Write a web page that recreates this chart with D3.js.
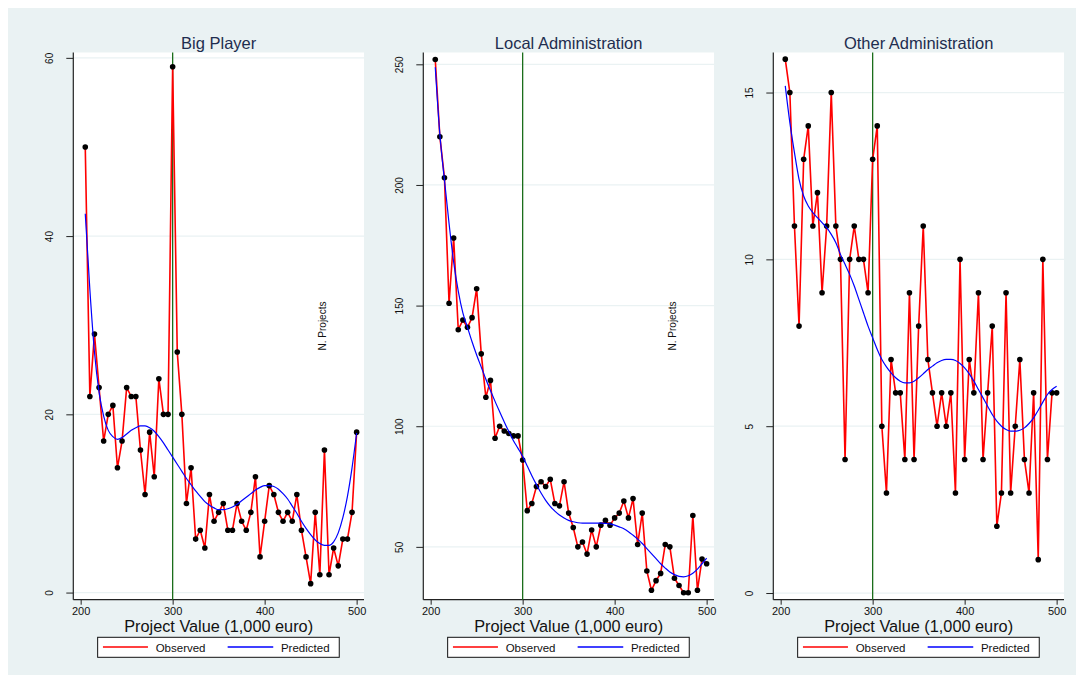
<html>
	<head>
		<meta charset="utf-8">
		<title>N. Projects by Project Value</title>
		<script src="https://d3js.org/d3.v7.min.js"></script>
		<style type="text/css">
			body {
				margin: 0;
				background: white;
			}
			text {
				font-family: "Liberation Sans", Arial, sans-serif;
			}
		</style>
	</head>
	<body>
		<div id="chart"></div>
	</body>
</html>
<script type="text/javascript">

	// project value bins (1,000 euro)
	const projectValue = [205, 210, 215, 220, 225, 230, 235, 240, 245, 250,
		255, 260, 265, 270, 275, 280, 285, 290, 295, 300,
		305, 310, 315, 320, 325, 330, 335, 340, 345, 350,
		355, 360, 365, 370, 375, 380, 385, 390, 395, 400,
		405, 410, 415, 420, 425, 430, 435, 440, 445, 450,
		455, 460, 465, 470, 475, 480, 485, 490, 495, 500];

	const bigObserved = [50, 22, 29, 23, 17, 20, 21, 14, 17, 23,
		22, 22, 16, 11, 18, 13, 24, 20, 20, 59,
		27, 20, 10, 14, 6, 7, 5, 11, 8, 9,
		10, 7, 7, 10, 8, 7, 9, 13, 4, 8,
		12, 11, 9, 8, 9, 8, 11, 7, 4, 1,
		9, 2, 16, 2, 5, 3, 6, 6, 9, 18];
	const bigPredicted = [42.5, 34, 27, 22.5, 19.8, 18.2, 17.5, 17.2, 17.4, 17.8,
		18.2, 18.5, 18.7, 18.7, 18.5, 18.1, 17.5, 16.8, 16, 15.2,
		14.4, 13.6, 12.8, 12.1, 11.4, 10.8, 10.2, 9.8, 9.5, 9.3,
		9.3, 9.4, 9.6, 9.9, 10.3, 10.7, 11.1, 11.5, 11.8, 12,
		12, 11.9, 11.6, 11.1, 10.5, 9.7, 8.9, 8, 7.2, 6.5,
		5.9, 5.5, 5.3, 5.3, 5.7, 6.7, 8.4, 10.8, 14, 17.9];

	const localObserved = [252, 220, 203, 151, 178, 140, 144, 141, 145, 157,
		130, 112, 119, 95, 100, 98, 97, 96, 96, 86,
		65, 68, 75, 77, 75, 78, 68, 67, 77, 64,
		58, 50, 52, 47, 57, 50, 59, 61, 59, 62,
		64, 69, 62, 70, 51, 64, 40, 32, 36, 39,
		51, 50, 37, 34, 31, 31, 63, 32, 45, 43];
	const localPredicted = [248.8, 221, 202, 184, 168, 156, 147, 141, 135, 129.5,
		124.5, 119.5, 114.8, 110.3, 106, 101.8, 97.8, 94, 90.8, 87.5,
		83.5, 79.5, 75.8, 72.3, 69.3, 66.8, 64.8, 63.2, 62, 61,
		60.4, 60, 59.8, 59.8, 59.8, 59.8, 59.8, 59.7, 59.5, 59,
		58.3, 57.5, 56.3, 54.8, 53.2, 51.4, 49.3, 47.2, 45.1, 43,
		41.2, 39.6, 38.5, 37.8, 37.6, 38, 39.1, 40.8, 43, 45.3];

	const otherObserved = [16, 15, 11, 8, 13, 14, 11, 12, 9, 11,
		15, 11, 10, 4, 10, 11, 10, 10, 9, 13,
		14, 5, 3, 7, 6, 6, 4, 9, 4, 8,
		11, 7, 6, 5, 6, 5, 6, 3, 10, 4,
		7, 6, 9, 4, 6, 8, 2, 3, 9, 3,
		5, 7, 4, 3, 6, 1, 10, 4, 6, 6];
	const otherPredicted = [15.2, 14.1, 13.2, 12.4, 11.9, 11.6, 11.4, 11.25, 11.1, 10.95,
		10.75, 10.5, 10.15, 9.85, 9.55, 9.2, 8.8, 8.4, 8, 7.65,
		7.3, 7, 6.78, 6.6, 6.45, 6.35, 6.3, 6.3, 6.35, 6.45,
		6.57, 6.7, 6.8, 6.9, 6.97, 7, 7, 6.97, 6.88, 6.75,
		6.57, 6.35, 6.1, 5.85, 5.6, 5.35, 5.15, 5, 4.9, 4.85,
		4.85, 4.88, 4.95, 5.08, 5.25, 5.48, 5.72, 5.95, 6.1, 6.2];

	const panelTitles = ["Big Player", "Local Administration", "Other Administration"];
	const xTicks = [200, 300, 400, 500];
	const bigTicks = [0, 20, 40, 60];
	const localTicks = [50, 100, 150, 200, 250];
	const otherTicks = [0, 5, 10, 15];
	const cutoff = 300;

	const width = 1083,
		height = 682;

	const panels = [
		{title: panelTitles[0], obs: bigObserved, pred: bigPredicted, ticks: bigTicks, yDomain: [-0.8, 60.6], left: 73.3, yTitle: true},
		{title: panelTitles[1], obs: localObserved, pred: localPredicted, ticks: localTicks, yDomain: [28.1, 254.9], left: 423.3, yTitle: true},
		{title: panelTitles[2], obs: otherObserved, pred: otherPredicted, ticks: otherTicks, yDomain: [-0.2, 16.2], left: 773.3, yTitle: false}
	];

	const plotW = 290.7,
		plotTop = 52.5,
		plotBottom = 599.7;

	const svg = d3.select('#chart').append("svg")
		.attr("width", width)
		.attr("height", height);

	// graph region
	svg.append("rect")
		.attr("x", 8)
		.attr("y", 8)
		.attr("width", 1068)
		.attr("height", 667)
		.style("fill", "#eaf2f3");

	panels.forEach(function(p) {
		const x = d3.scaleLinear()
			.domain([192, 508])
			.range([p.left, p.left + plotW]);
		const y = d3.scaleLinear()
			.domain(p.yDomain)
			.range([plotBottom, plotTop]);
		const cx = p.left + plotW / 2;

		const g = svg.append("g");

		g.append("rect")
			.attr("x", p.left)
			.attr("y", plotTop)
			.attr("width", plotW)
			.attr("height", plotBottom - plotTop)
			.style("fill", "white");

		// grid lines
		g.selectAll(".grid")
			.data(p.ticks)
			.enter().append("line")
				.attr("x1", p.left)
				.attr("x2", p.left + plotW)
				.attr("y1", function(d) { return y(d); })
				.attr("y2", function(d) { return y(d); })
				.attr("stroke", "#eaf2f3")
				.attr("stroke-width", 1.2);

		// y axis
		const yAxis = g.append("g")
			.attr("transform", "translate(" + p.left + ",0)")
			.call(d3.axisLeft(y).tickValues(p.ticks).tickSize(7).tickSizeOuter(0));
		yAxis.select(".domain").remove();
		yAxis.selectAll("line").attr("stroke", "#222");
		yAxis.selectAll("text")
			.attr("x", 0)
			.attr("y", 0)
			.attr("dy", 0)
			.attr("transform", "translate(-20,0) rotate(-90)")
			.attr("text-anchor", "middle")
			.style("font-family", '"Liberation Sans", Arial, sans-serif')
			.style("font-size", "10px")
			.style("fill", "#111");

		g.append("line")
			.attr("x1", p.left).attr("x2", p.left)
			.attr("y1", plotTop).attr("y2", plotBottom)
			.attr("stroke", "#222")
			.attr("stroke-width", 1.2);

		// x axis
		const xAxis = g.append("g")
			.attr("transform", "translate(0," + plotBottom + ")")
			.call(d3.axisBottom(x).tickValues(xTicks).tickSize(5).tickSizeOuter(0));
		xAxis.select(".domain").remove();
		xAxis.selectAll("line").attr("stroke", "#222");
		xAxis.selectAll("text")
			.attr("y", 15.2)
			.attr("dy", 0)
			.style("font-family", '"Liberation Sans", Arial, sans-serif')
			.style("font-size", "11px")
			.style("fill", "#111");

		g.append("line")
			.attr("x1", p.left).attr("x2", p.left + plotW)
			.attr("y1", plotBottom).attr("y2", plotBottom)
			.attr("stroke", "#222")
			.attr("stroke-width", 1.2);

		// cutoff line
		g.append("line")
			.attr("x1", x(cutoff)).attr("x2", x(cutoff))
			.attr("y1", plotTop).attr("y2", plotBottom)
			.attr("stroke", "#1b6e1b")
			.attr("stroke-width", 1.3);

		// observed
		const lineObs = d3.line()
			.x(function(d, i) { return x(projectValue[i]); })
			.y(function(d) { return y(d); });
		g.append("path")
			.datum(p.obs)
			.attr("d", lineObs)
			.attr("fill", "none")
			.attr("stroke", "#ff0000")
			.attr("stroke-width", 1.6);

		g.selectAll(".dot")
			.data(p.obs)
			.enter().append("circle")
				.attr("cx", function(d, i) { return x(projectValue[i]); })
				.attr("cy", function(d) { return y(d); })
				.attr("r", 2.8)
				.style("fill", "black");

		// predicted
		const linePred = d3.line()
			.curve(d3.curveMonotoneX)
			.x(function(d, i) { return x(projectValue[i]); })
			.y(function(d) { return y(d); });
		g.append("path")
			.datum(p.pred)
			.attr("d", linePred)
			.attr("fill", "none")
			.attr("stroke", "#0000ff")
			.attr("stroke-width", 1.2);

		if (p.yTitle) {
			g.append("text")
				.attr("transform", "translate(" + (p.left + plotW - 38) + ",326) rotate(-90)")
				.attr("text-anchor", "middle")
				.style("font-size", "10px")
				.style("fill", "#111")
				.text("N. Projects");
		}

		// title
		g.append("text")
			.attr("x", cx)
			.attr("y", 49)
			.attr("text-anchor", "middle")
			.style("font-size", "16.5px")
			.style("fill", "#1e2d4f")
			.text(p.title);

		// x title
		g.append("text")
			.attr("x", cx)
			.attr("y", 632)
			.attr("text-anchor", "middle")
			.style("font-size", "16.3px")
			.style("fill", "#111")
			.text("Project Value (1,000 euro)");

		// legend
		const lg = g.append("g")
			.attr("transform", "translate(" + cx + ",0)");
		lg.append("rect")
			.attr("x", -121)
			.attr("y", 637.3)
			.attr("width", 241.6)
			.attr("height", 20)
			.style("fill", "white")
			.attr("stroke", "#111")
			.attr("stroke-width", 1);
		lg.append("line")
			.attr("x1", -115.7).attr("x2", -70.7)
			.attr("y1", 647).attr("y2", 647)
			.attr("stroke", "#ff0000")
			.attr("stroke-width", 1.4);
		lg.append("text")
			.attr("x", -63)
			.attr("y", 651.5)
			.style("font-size", "11.5px")
			.style("fill", "#111")
			.text("Observed");
		lg.append("line")
			.attr("x1", 9).attr("x2", 54.6)
			.attr("y1", 647).attr("y2", 647)
			.attr("stroke", "#0000ff")
			.attr("stroke-width", 1.4);
		lg.append("text")
			.attr("x", 62.3)
			.attr("y", 651.5)
			.style("font-size", "11.5px")
			.style("fill", "#111")
			.text("Predicted");
	});

</script>
